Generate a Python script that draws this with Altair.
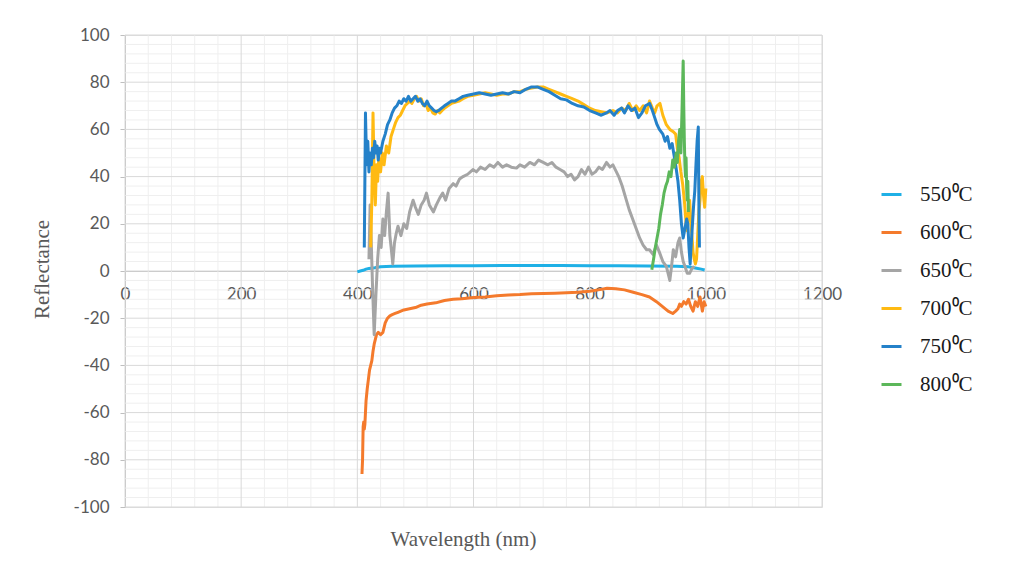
import altair as alt
import pandas as pd

# ---------------- data ----------------
series = ["550⁰C", "600⁰C", "650⁰C", "700⁰C", "750⁰C", "800⁰C"]
colors = ["#1fb0e6", "#f47a2c", "#a5a5a5", "#ffba12", "#2481c9", "#5cb75a"]

x550 = [400, 405, 410, 415, 420, 430, 440, 460, 500, 550, 600, 650, 700, 750, 800, 850, 900, 950, 970, 984, 992, 998]
y550 = [-0.4, 0.0, 0.3, 0.8, 1.1, 1.4, 1.8, 2.0, 2.1, 2.2, 2.2, 2.3, 2.3, 2.3, 2.2, 2.2, 2.1, 2.0, 1.8, 1.2, 0.8, 0.4]

x600 = [408, 409, 410, 411, 412, 413, 415, 417, 419, 421, 423, 425, 427, 429, 431, 433, 436, 440, 444, 448,
        452, 456, 460, 465, 470, 480, 490, 500, 510, 520, 535, 550, 565, 580, 600, 620, 640, 660, 680, 700,
        720, 740, 760, 780, 800, 815, 830, 845, 860, 875, 890, 903, 915, 925, 935, 943, 948, 952, 955, 958,
        962, 966, 970, 974, 978, 982, 986, 990, 994, 997, 1000]
y600 = [-86, -80, -66, -64, -67, -65, -55, -50, -46, -42, -40, -38, -34, -31, -29, -27, -26, -27, -26, -22,
        -20, -19, -18.5, -18, -17.5, -16.5, -16, -15.5, -14.5, -14, -13.5, -12.5, -12, -11.8, -11.2, -11, -10.5, -10.2, -10, -9.6,
        -9.5, -9.4, -9.2, -9, -8.6, -8, -7.3, -7.5, -8, -9, -10, -11, -13, -15, -17, -18, -17, -16, -14, -15,
        -13, -14, -12, -15, -17, -13, -15, -11, -17, -13, -15]

x650 = [420, 422, 424, 426, 429, 432, 435, 438, 441, 444, 447, 450, 453, 456, 459, 461, 464, 467, 470, 475,
        480, 485, 490, 496, 500, 505, 510, 515, 519, 524, 531, 536, 542, 547, 552, 558, 565, 570, 576, 582,
        590, 599, 605, 612, 620, 628, 635, 642, 650, 657, 665, 674, 680, 688, 697, 705, 712, 720, 728, 735,
        742, 749, 756, 762, 768, 774, 780, 786, 792, 798, 804, 810, 816, 822, 829, 835, 840, 846, 850, 856,
        862, 868, 874, 880, 886, 892, 898, 903, 909, 915, 920, 926, 932, 936, 938, 941, 944, 948, 952, 955,
        958, 961, 964, 968, 972, 976, 980]
y650 = [5, 28, 12, -5, -27, -10, 5, 15, 10, 22, 15, 25, 33, 15, 8, 3, 12, 16, 19, 15,
        20, 18, 25, 30, 27, 24, 28, 30, 33, 28, 25, 28, 31, 33, 30, 35, 37, 36, 39, 40,
        41, 43, 42, 44, 43, 45, 44, 46, 44, 45, 44, 43.6, 45, 44, 46, 45, 47, 46, 45, 46,
        44, 43, 42, 40, 41, 38.6, 40, 43, 41, 44, 41, 42, 44, 43, 46, 44, 45, 42, 40, 36,
        31, 26, 22, 18, 14, 11, 9, 9, 7, 11, 8, 4, 2, -2, -4, 2, 9, 6, 12, 14,
        8, 4, 2, -1, -1, 1, 2]

x700 = [423, 425, 427, 429, 431, 433, 435, 437, 440, 443, 446, 450, 454, 458, 462, 466, 470, 474, 478, 482,
        486, 490, 494, 498, 502, 506, 510, 514, 518, 522, 526, 530, 534, 538, 542, 546, 550, 556, 562, 568,
        575, 582, 590, 600, 610, 620, 630, 640, 650, 660, 670, 680, 690, 700, 710, 720, 730, 740, 750, 760,
        770, 780, 790, 800, 810, 820, 830, 840, 848, 855, 862, 868, 874, 880, 886, 892, 898, 903, 908, 912,
        916, 921, 926, 932, 938, 944, 948, 951, 954, 957, 960, 963, 966, 968, 970, 972, 974, 976, 978, 980,
        982, 984, 986, 988, 990, 992, 994, 996, 998, 1000]
y700 = [10, 30, 67, 40, 28, 45, 38, 48, 42, 50, 45, 53, 50, 57, 60, 63, 65, 66, 68, 70,
        71, 72, 71, 73, 74, 72, 73, 70, 71, 68, 69, 67, 66.5, 68, 67, 68, 69, 70, 71, 71.5,
        72, 73, 74, 74.5, 75, 75.5, 75, 74.5, 75, 75, 76, 76, 77, 77.5, 78, 78, 77, 76, 75, 74,
        73, 72, 70.5, 69, 68, 67.5, 67, 68, 67, 69, 68, 71, 68, 70, 68, 70, 67, 72, 69, 67,
        70, 71, 66, 62, 60, 59, 58, 52, 48, 42, 37, 30, 20, 17, 25, 30, 22, 15, 8, 5,
        3, 5, 15, 25, 30, 38, 40, 32, 27, 35]

x750 = [412, 414, 416, 418, 420, 422, 424, 426, 428, 430, 432, 434, 436, 438, 440, 444, 448, 452, 456, 460,
        464, 468, 472, 476, 480, 484, 488, 492, 496, 500, 504, 508, 512, 516, 520, 524, 528, 532, 536, 540,
        545, 550, 556, 562, 568, 575, 582, 590, 600, 610, 620, 630, 640, 650, 660, 670, 680, 690, 700, 710,
        720, 730, 740, 750, 760, 770, 780, 790, 800, 810, 820, 829, 835, 842, 848, 855, 860, 866, 872, 878,
        884, 890, 896, 903, 908, 912, 916, 920, 926, 930, 934, 938, 942, 944, 948, 952, 955, 958, 961, 964,
        967, 969, 971, 973, 975, 977, 979, 981, 983, 985, 987, 988, 989]
y750 = [10, 67, 45, 55, 42, 50, 45, 52, 48, 55, 50, 53, 47, 52, 50, 55, 58, 62, 64, 67,
        69, 70, 72, 71, 73, 72, 74, 72, 73, 74, 72, 73, 71, 70, 72, 70, 69, 68, 67.5, 68,
        69, 70, 71, 72, 72, 73, 74, 74.5, 75, 75.5, 75, 74.5, 75, 75.5, 75, 76, 75.5, 77, 78, 78,
        77, 76, 74.5, 73, 72.5, 71, 70, 69.5, 68, 67, 66, 67, 68, 66, 68, 69, 67, 70, 68, 69,
        65, 67, 70, 71, 68, 65, 62, 60, 58, 55, 57, 52, 54, 51, 45, 38, 30, 20, 14, 18,
        22, 20, 10, 3, 12, 20, 28, 34, 45, 55, 61, 30, 10]

x800 = [907, 910, 913, 916, 919, 922, 925, 928, 931, 934, 937, 940, 943, 946, 949, 951, 953, 955, 957, 959,
        961, 962, 963, 964, 965, 966, 967, 968, 969, 970]
y800 = [0.5, 5, 10, 14, 18, 24, 28, 33, 36, 38, 42, 40, 47, 44, 50, 46, 55, 60, 50, 68,
        89, 70, 55, 45, 40, 48, 35, 30, 38, 25]

# grid positions
x_major = [0, 200, 400, 600, 800, 1000, 1200]
x_minor = [40, 80, 120, 160, 240, 280, 320, 360, 440, 480, 520, 560, 640, 680, 720, 760,
           840, 880, 920, 960, 1040, 1080, 1120, 1160]
y_major = [-100, -80, -60, -40, -20, 0, 20, 40, 60, 80, 100]
y_minor = [v for v in range(-96, 100, 4) if v % 20 != 0]

rows = []
for name, xs, ys in zip(series, [x550, x600, x650, x700, x750, x800], [y550, y600, y650, y700, y750, y800]):
    for i, (a, b) in enumerate(zip(xs, ys)):
        rows.append({"s": name, "x": a, "y": b, "i": i})
df = pd.DataFrame(rows)

W, H = 697, 472
xscale = alt.Scale(domain=[0, 1200], nice=False, zero=False)
yscale = alt.Scale(domain=[-100, 100], nice=False, zero=False)

x_axis = alt.Axis(values=x_major, offset=-H / 2, grid=False, ticks=False,
                  domainColor="#bfbfbf", domainWidth=1,
                  labelFont="Lato", labelFontSize=17, labelColor="#595959",
                  labelPadding=15, labelFlush=False,
                  labelExpr="'' + datum.value",
                  title="Wavelength (nm)", titleFont="Liberation Serif", titleFontSize=21,
                  titleFontWeight="normal", titleColor="#595959",
                  titleX=338, titleY=274, titleBaseline="alphabetic", titleAlign="center")
y_axis = alt.Axis(values=y_major, grid=False, ticks=True, tickSize=5, tickColor="#bfbfbf",
                  domainColor="#bfbfbf", domainWidth=1,
                  labelFont="Lato", labelFontSize=17, labelColor="#595959",
                  labelPadding=11, labelFlush=False,
                  labelExpr="'' + datum.value",
                  title="Reflectance", titleFont="Liberation Serif", titleFontSize=21,
                  titleFontWeight="normal", titleColor="#595959",
                  titleX=-77, titleY=H / 2 - 2, titleAngle=270,
                  titleBaseline="alphabetic", titleAlign="center")

def vgrid(vals, color):
    d = pd.DataFrame({"v": vals})
    return alt.Chart(d).mark_rule(color=color, strokeWidth=1).encode(
        x=alt.X("v:Q", scale=xscale, axis=x_axis))

def hgrid(vals, color):
    d = pd.DataFrame({"v": vals})
    return alt.Chart(d).mark_rule(color=color, strokeWidth=1).encode(
        y=alt.Y("v:Q", scale=yscale, axis=y_axis))

lines = alt.Chart(df).mark_line(strokeWidth=3, strokeJoin="round").encode(
    x=alt.X("x:Q", scale=xscale, axis=x_axis),
    y=alt.Y("y:Q", scale=yscale, axis=y_axis),
    color=alt.Color("s:N", scale=alt.Scale(domain=series, range=colors),
                    legend=alt.Legend(orient="none", legendX=755, legendY=148, title=None,
                                      symbolType="stroke", symbolSize=400, symbolStrokeWidth=3,
                                      labelFont="Liberation Serif", labelFontSize=21,
                                      labelColor="#1a1a1a", labelOffset=17, rowPadding=16,
                                      padding=0)),
    order=alt.Order("i:Q"),
)

chart = alt.layer(
    vgrid(x_minor, "#efefef"), hgrid(y_minor, "#efefef"),
    vgrid(x_major, "#d9d9d9"), hgrid(y_major, "#d9d9d9"),
    lines,
).properties(
    width=W, height=H,
    padding={"left": 117, "top": 27, "right": 182, "bottom": 49},
    autosize=alt.AutoSizeParams(type="none"),
).configure_view(stroke="transparent").configure(background="white")

chart.save("out.html", embed_options={"renderer": "svg", "actions": False})
